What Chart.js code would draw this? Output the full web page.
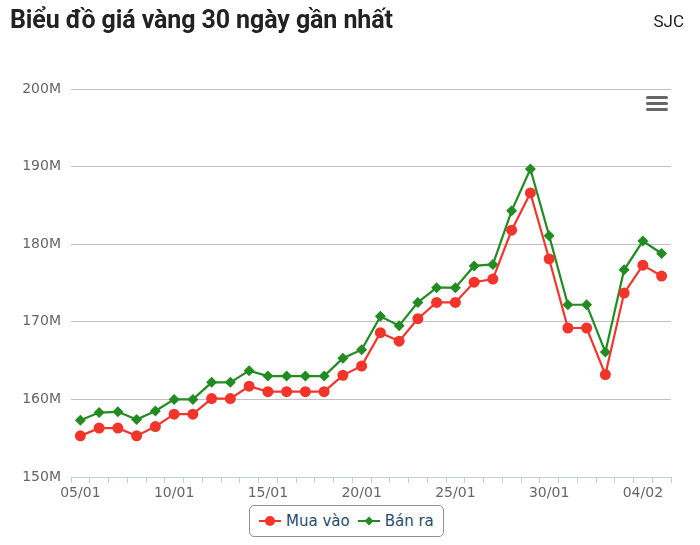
<!DOCTYPE html>
<html>
<head>
<meta charset="utf-8">
<script src="https://cdn.jsdelivr.net/npm/chart.js@4"></script>
<style>
  body { margin: 0; background: #fff; width: 700px; height: 545px; position: relative; overflow: hidden; }
  #title { position: absolute; left: 10px; top: 5px; font: bold 25px Roboto, sans-serif; color: #222; letter-spacing: -0.1px; white-space: nowrap; }
  #source { position: absolute; right: 16px; top: 11px; font: 17px Roboto, sans-serif; color: #222; }
  #menu { position: absolute; left: 646px; top: 96px; width: 22px; }
  #menu div { height: 3px; background: #666; border-radius: 2px; margin-bottom: 3px; }
  #goldChart { position: absolute; left: 0; top: 0; }
  #legend { position: absolute; left: 249px; top: 505px; height: 30px; border: 1px solid #909090; border-radius: 5px;
            display: flex; align-items: center; padding: 0 9px; font: 15px "DejaVu Sans", sans-serif; color: #274b6d; background: #fff; }
  .item { display: flex; align-items: center; margin-right: 8px; }
  .item:last-child { margin-right: 0; }
  .sym { width: 22px; height: 12px; margin-right: 5px; }
</style>
</head>
<body>
<canvas id="goldChart" width="700" height="545"></canvas>
<div id="title">Biểu đồ giá vàng 30 ngày gần nhất</div>
<div id="source">SJC</div>
<div id="menu"><div></div><div></div><div></div></div>
<div id="legend"></div>
<script>
// ngày (30 ngày gần nhất)
const days = ['05/01','06/01','07/01','08/01','09/01','10/01','11/01','12/01','13/01','14/01',
  '15/01','16/01','17/01','18/01','19/01','20/01','21/01','22/01','23/01','24/01',
  '25/01','26/01','27/01','28/01','29/01','30/01','31/01','01/02','02/02','03/02','04/02','05/02'];

// giá mua vào / bán ra (triệu đồng)
const muaVao = [155.3, 156.3, 156.3, 155.3, 156.5, 158.1, 158.1, 160.1, 160.1, 161.7,
  161.0, 161.0, 161.0, 161.0, 163.1, 164.3, 168.6, 167.5, 170.4, 172.5,
  172.5, 175.1, 175.5, 181.8, 186.6, 178.1, 169.2, 169.2, 163.2, 173.7, 177.3, 175.9];
const banRa = [157.3, 158.3, 158.4, 157.4, 158.5, 160.0, 160.0, 162.2, 162.2, 163.7,
  163.0, 163.0, 163.0, 163.0, 165.3, 166.4, 170.7, 169.5, 172.5, 174.4,
  174.4, 177.2, 177.4, 184.3, 189.7, 181.1, 172.2, 172.2, 166.1, 176.7, 180.4, 178.8];

const yMin = 150, yMax = 200, yStep = 10;

const red = '#f2352b';
const green = '#228b22';

const ctx = document.getElementById('goldChart').getContext('2d');

const chart = new Chart(ctx, {
  type: 'line',
  data: {
    labels: days,
    datasets: [{
      label: 'Mua vào',
      data: muaVao.map(v => v * 1e6),
      borderColor: red,
      backgroundColor: red,
      borderWidth: 2.2,
      pointStyle: 'circle',
      pointRadius: 5.5,
      pointBorderWidth: 0,
      tension: 0
    }, {
      label: 'Bán ra',
      data: banRa.map(v => v * 1e6),
      borderColor: green,
      backgroundColor: green,
      borderWidth: 2.2,
      pointStyle: 'rectRot',
      pointRadius: 5.5,
      pointBorderWidth: 0,
      tension: 0
    }]
  },
  options: {
    responsive: false,
    animation: false,
    layout: { padding: { left: 0, right: 29, top: 89, bottom: 30 } },
    plugins: { legend: { display: false }, tooltip: { enabled: false } },
    scales: {
      x: {
        offset: true,
        border: { color: '#C0D0E0', width: 1 },
        grid: { offset: true, drawOnChartArea: false, drawTicks: true, tickLength: 6, color: '#C0D0E0' },
        ticks: {
          autoSkip: false, maxRotation: 0, padding: 2,
          color: '#666', font: { family: '"DejaVu Sans", sans-serif', size: 14 },
          callback: function (val, i) { return i % 5 === 0 ? this.getLabelForValue(val) : ''; }
        },
        afterFit: s => { s.height = 38; }
      },
      y: {
        min: yMin * 1e6, max: yMax * 1e6,
        border: { display: false },
        grid: { color: '#C0C0C0', drawTicks: false },
        ticks: {
          stepSize: yStep * 1e6, padding: 10,
          color: '#666', font: { family: '"DejaVu Sans", sans-serif', size: 14 },
          callback: v => (v / 1e6) + 'M'
        },
        afterFit: s => { s.width = 71; }
      }
    }
  }
});

// chú thích
const legend = document.getElementById('legend');
chart.data.datasets.forEach(ds => {
  const item = document.createElement('div');
  item.className = 'item';
  const c = document.createElement('canvas');
  c.className = 'sym'; c.width = 22; c.height = 12;
  const g = c.getContext('2d');
  g.strokeStyle = ds.borderColor; g.fillStyle = ds.borderColor; g.lineWidth = 2;
  g.beginPath(); g.moveTo(0, 6); g.lineTo(22, 6); g.stroke();
  g.beginPath();
  if (ds.pointStyle === 'circle') { g.arc(11, 6, 5, 0, Math.PI * 2); }
  else { g.moveTo(11, 1.5); g.lineTo(15.5, 6); g.lineTo(11, 10.5); g.lineTo(6.5, 6); g.closePath(); }
  g.fill();
  item.appendChild(c);
  const t = document.createElement('span');
  t.textContent = ds.label;
  item.appendChild(t);
  legend.appendChild(item);
});
</script>
</body>
</html>
